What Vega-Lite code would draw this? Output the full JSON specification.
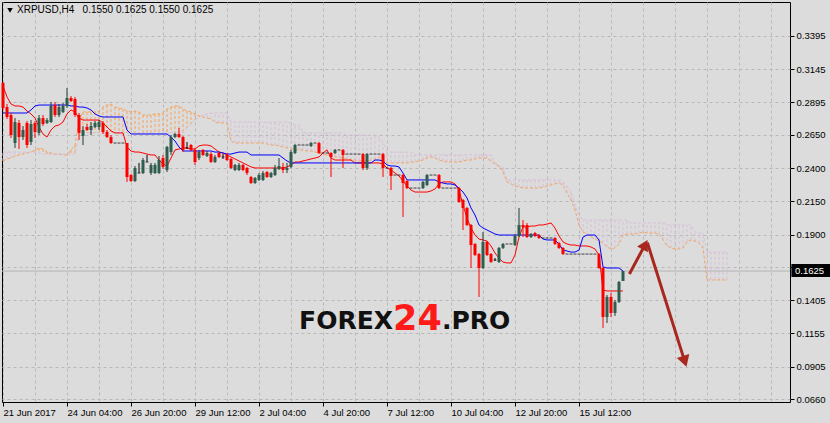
{
"$schema":"https://vega.github.io/schema/vega-lite/v6.json",
"width":788,"height":400,
"autosize":{"type":"none"},
"padding":{"left":2,"top":2,"right":40,"bottom":21},
"background":"#dcdcdc",
"config":{"view":{"stroke":"#000000","strokeWidth":1},"font":"Liberation Sans",
 "axis":{"grid":true,"gridColor":"#b8b8b8","gridDash":[3,3],"domain":false,"tickColor":"#000000","tickSize":4,
   "labelFont":"Liberation Sans","labelFontSize":9.5,"labelColor":"#000000","labelOverlap":false,"labelBound":false,"labelFlush":false,"title":null}},
"datasets":{"bars":[
{"i":0,"o":0.3041,"h":0.3048,"l":0.2838,"c":0.2853,"tk":0.3018,"kj":0.2815,"a":0.2454,"b":0.2521},
{"i":1,"o":0.286,"h":0.2883,"l":0.277,"c":0.2785,"tk":0.2936,"kj":0.2815,"a":0.2469,"b":0.2521},
{"i":2,"o":0.28,"h":0.2815,"l":0.2627,"c":0.2649,"tk":0.2883,"kj":0.2815,"a":0.2476,"b":0.2521},
{"i":3,"o":0.2589,"h":0.2777,"l":0.2552,"c":0.2747,"tk":0.2868,"kj":0.2815,"a":0.2491,"b":0.2521},
{"i":4,"o":0.274,"h":0.2762,"l":0.2544,"c":0.2634,"tk":0.2868,"kj":0.2815,"a":0.2499,"b":0.2521},
{"i":5,"o":0.2634,"h":0.2717,"l":0.2612,"c":0.2687,"tk":0.286,"kj":0.2815,"a":0.2506,"b":0.2521},
{"i":6,"o":0.274,"h":0.2755,"l":0.2552,"c":0.2574,"tk":0.283,"kj":0.2815,"a":0.2514,"b":0.2521},
{"i":7,"o":0.2597,"h":0.2762,"l":0.2574,"c":0.2732,"tk":0.2808,"kj":0.2838,"a":0.2521,"b":0.2521},
{"i":8,"o":0.274,"h":0.2755,"l":0.2627,"c":0.2672,"tk":0.2777,"kj":0.2868,"a":0.2537,"b":0.2521},
{"i":9,"o":0.2665,"h":0.28,"l":0.2649,"c":0.2777,"tk":0.271,"kj":0.2875,"a":0.2552,"b":0.2514},
{"i":10,"o":0.2777,"h":0.28,"l":0.2717,"c":0.2732,"tk":0.2657,"kj":0.2875,"a":0.2544,"b":0.2506},
{"i":11,"o":0.274,"h":0.2777,"l":0.2732,"c":0.2762,"tk":0.2634,"kj":0.2875,"a":0.2521,"b":0.2506},
{"i":12,"o":0.2747,"h":0.2898,"l":0.274,"c":0.2868,"tk":0.2687,"kj":0.2875,"a":0.2514,"b":0.2506},
{"i":13,"o":0.2875,"h":0.2898,"l":0.2785,"c":0.28,"tk":0.2717,"kj":0.2875,"a":0.2506,"b":0.2506},
{"i":14,"o":0.28,"h":0.2883,"l":0.2785,"c":0.286,"tk":0.2725,"kj":0.2875,"a":0.2506,"b":0.2506},
{"i":15,"o":0.2823,"h":0.289,"l":0.2815,"c":0.2868,"tk":0.2747,"kj":0.2875,"a":0.2499,"b":0.2506},
{"i":16,"o":0.2868,"h":0.3003,"l":0.2853,"c":0.2928,"tk":0.2808,"kj":0.2875,"a":0.2499,"b":0.2506},
{"i":17,"o":0.2928,"h":0.2943,"l":0.2898,"c":0.2905,"tk":0.2838,"kj":0.2868,"a":0.2537,"b":0.2506},
{"i":18,"o":0.2921,"h":0.2936,"l":0.2785,"c":0.28,"tk":0.2823,"kj":0.2868,"a":0.2574,"b":0.2506},
{"i":19,"o":0.28,"h":0.2815,"l":0.2612,"c":0.2665,"tk":0.2777,"kj":0.286,"a":0.2762,"b":0.2649},
{"i":20,"o":0.2642,"h":0.2717,"l":0.2574,"c":0.2687,"tk":0.2762,"kj":0.286,"a":0.2823,"b":0.2665},
{"i":21,"o":0.271,"h":0.2732,"l":0.268,"c":0.2687,"tk":0.2762,"kj":0.2853,"a":0.2823,"b":0.2665},
{"i":22,"o":0.2687,"h":0.2747,"l":0.2649,"c":0.2717,"tk":0.2762,"kj":0.2838,"a":0.2823,"b":0.2665},
{"i":23,"o":0.271,"h":0.2755,"l":0.2702,"c":0.274,"tk":0.2762,"kj":0.2808,"a":0.2823,"b":0.2665},
{"i":24,"o":0.271,"h":0.2762,"l":0.2687,"c":0.2747,"tk":0.2762,"kj":0.2793,"a":0.283,"b":0.2665},
{"i":25,"o":0.274,"h":0.2755,"l":0.2657,"c":0.2672,"tk":0.274,"kj":0.2785,"a":0.286,"b":0.2665},
{"i":26,"o":0.2672,"h":0.2687,"l":0.2627,"c":0.2634,"tk":0.271,"kj":0.2785,"a":0.2875,"b":0.2665},
{"i":27,"o":0.2634,"h":0.2649,"l":0.2582,"c":0.2589,"tk":0.268,"kj":0.2785,"a":0.2883,"b":0.2665},
{"i":28,"o":0.2589,"h":0.2589,"l":0.2589,"c":0.2589,"tk":0.2665,"kj":0.2785,"a":0.286,"b":0.2665},
{"i":29,"o":0.2589,"h":0.2589,"l":0.2589,"c":0.2589,"tk":0.2665,"kj":0.2785,"a":0.2853,"b":0.2665},
{"i":30,"o":0.2589,"h":0.2589,"l":0.2589,"c":0.2589,"tk":0.2665,"kj":0.2785,"a":0.2845,"b":0.2665},
{"i":31,"o":0.2589,"h":0.2589,"l":0.2296,"c":0.2333,"tk":0.2559,"kj":0.2687,"a":0.283,"b":0.2665},
{"i":32,"o":0.2348,"h":0.2356,"l":0.2296,"c":0.2303,"tk":0.2529,"kj":0.2657,"a":0.2823,"b":0.2665},
{"i":33,"o":0.2303,"h":0.2416,"l":0.2296,"c":0.2401,"tk":0.2521,"kj":0.2657,"a":0.283,"b":0.2665},
{"i":34,"o":0.2363,"h":0.2439,"l":0.2363,"c":0.2363,"tk":0.2521,"kj":0.2657,"a":0.2823,"b":0.2665},
{"i":35,"o":0.2363,"h":0.2476,"l":0.2356,"c":0.2461,"tk":0.2514,"kj":0.2657,"a":0.28,"b":0.2665},
{"i":36,"o":0.2446,"h":0.2499,"l":0.2446,"c":0.2446,"tk":0.2506,"kj":0.2657,"a":0.28,"b":0.2665},
{"i":37,"o":0.2363,"h":0.2439,"l":0.2348,"c":0.2424,"tk":0.2499,"kj":0.2657,"a":0.28,"b":0.2665},
{"i":38,"o":0.2363,"h":0.2439,"l":0.2356,"c":0.2424,"tk":0.2499,"kj":0.2657,"a":0.2808,"b":0.2665},
{"i":39,"o":0.2363,"h":0.2491,"l":0.2356,"c":0.2461,"tk":0.2461,"kj":0.2657,"a":0.2808,"b":0.2665},
{"i":40,"o":0.2476,"h":0.2499,"l":0.2393,"c":0.2409,"tk":0.2431,"kj":0.2657,"a":0.2815,"b":0.2665},
{"i":41,"o":0.2386,"h":0.2567,"l":0.2371,"c":0.2559,"tk":0.2416,"kj":0.2657,"a":0.2845,"b":0.2665},
{"i":42,"o":0.2521,"h":0.2649,"l":0.2499,"c":0.2634,"tk":0.2476,"kj":0.2634,"a":0.286,"b":0.2665},
{"i":43,"o":0.2634,"h":0.2665,"l":0.2627,"c":0.2657,"tk":0.2537,"kj":0.2604,"a":0.2868,"b":0.2665},
{"i":44,"o":0.2657,"h":0.2702,"l":0.2627,"c":0.2634,"tk":0.2544,"kj":0.2559,"a":0.2868,"b":0.2665},
{"i":45,"o":0.2634,"h":0.2642,"l":0.2521,"c":0.2537,"tk":0.2552,"kj":0.2529,"a":0.2845,"b":0.2665},
{"i":46,"o":0.2552,"h":0.2597,"l":0.2544,"c":0.2552,"tk":0.2552,"kj":0.2529,"a":0.283,"b":0.2702},
{"i":47,"o":0.2574,"h":0.2582,"l":0.2529,"c":0.2537,"tk":0.2544,"kj":0.2529,"a":0.2823,"b":0.2732},
{"i":48,"o":0.2537,"h":0.2552,"l":0.2424,"c":0.2446,"tk":0.2544,"kj":0.2529,"a":0.2808,"b":0.2762},
{"i":49,"o":0.2476,"h":0.2537,"l":0.2461,"c":0.2521,"tk":0.2567,"kj":0.2529,"a":0.2793,"b":0.2785},
{"i":50,"o":0.2537,"h":0.2544,"l":0.2491,"c":0.2499,"tk":0.2574,"kj":0.2529,"a":0.2785,"b":0.28},
{"i":51,"o":0.2491,"h":0.2529,"l":0.2484,"c":0.2514,"tk":0.2574,"kj":0.2529,"a":0.2777,"b":0.2808},
{"i":52,"o":0.2506,"h":0.2521,"l":0.2439,"c":0.2446,"tk":0.2567,"kj":0.2529,"a":0.277,"b":0.2815},
{"i":53,"o":0.2446,"h":0.2499,"l":0.2439,"c":0.2484,"tk":0.2544,"kj":0.2521,"a":0.2747,"b":0.2815},
{"i":54,"o":0.2514,"h":0.2521,"l":0.2476,"c":0.2484,"tk":0.2521,"kj":0.2521,"a":0.274,"b":0.2815},
{"i":55,"o":0.2484,"h":0.2506,"l":0.2469,"c":0.2484,"tk":0.2514,"kj":0.2514,"a":0.274,"b":0.2815},
{"i":56,"o":0.2499,"h":0.2514,"l":0.2454,"c":0.2461,"tk":0.2499,"kj":0.2506,"a":0.274,"b":0.2815},
{"i":57,"o":0.2469,"h":0.2476,"l":0.2393,"c":0.2401,"tk":0.2484,"kj":0.2506,"a":0.2604,"b":0.2747},
{"i":58,"o":0.2386,"h":0.2431,"l":0.2378,"c":0.2424,"tk":0.2469,"kj":0.2514,"a":0.2589,"b":0.2747},
{"i":59,"o":0.2386,"h":0.2439,"l":0.2378,"c":0.2424,"tk":0.2454,"kj":0.2521,"a":0.2589,"b":0.2747},
{"i":60,"o":0.2424,"h":0.2431,"l":0.2378,"c":0.2386,"tk":0.2439,"kj":0.2521,"a":0.2589,"b":0.2747},
{"i":61,"o":0.2401,"h":0.2409,"l":0.2348,"c":0.2363,"tk":0.2424,"kj":0.2521,"a":0.2589,"b":0.2747},
{"i":62,"o":0.2333,"h":0.2341,"l":0.2281,"c":0.2288,"tk":0.2409,"kj":0.2499,"a":0.2589,"b":0.2747},
{"i":63,"o":0.2288,"h":0.2333,"l":0.2281,"c":0.2326,"tk":0.2401,"kj":0.2499,"a":0.2589,"b":0.2747},
{"i":64,"o":0.2311,"h":0.2363,"l":0.2303,"c":0.2348,"tk":0.2401,"kj":0.2499,"a":0.2589,"b":0.2747},
{"i":65,"o":0.2311,"h":0.2378,"l":0.2303,"c":0.2363,"tk":0.2401,"kj":0.2499,"a":0.2589,"b":0.2747},
{"i":66,"o":0.2371,"h":0.2378,"l":0.2326,"c":0.2333,"tk":0.2401,"kj":0.2499,"a":0.2582,"b":0.2747},
{"i":67,"o":0.2333,"h":0.2371,"l":0.2326,"c":0.2363,"tk":0.2401,"kj":0.2499,"a":0.2574,"b":0.2747},
{"i":68,"o":0.2348,"h":0.2424,"l":0.2341,"c":0.2401,"tk":0.2401,"kj":0.2499,"a":0.2574,"b":0.2747},
{"i":69,"o":0.2393,"h":0.2476,"l":0.2386,"c":0.2416,"tk":0.2401,"kj":0.2499,"a":0.2567,"b":0.2747},
{"i":70,"o":0.2409,"h":0.2439,"l":0.2363,"c":0.2386,"tk":0.2401,"kj":0.2476,"a":0.2559,"b":0.2747},
{"i":71,"o":0.2386,"h":0.2439,"l":0.2363,"c":0.2401,"tk":0.2409,"kj":0.2454,"a":0.2552,"b":0.2747},
{"i":72,"o":0.2409,"h":0.2537,"l":0.2401,"c":0.2521,"tk":0.2424,"kj":0.2439,"a":0.2544,"b":0.274},
{"i":73,"o":0.2514,"h":0.2582,"l":0.2506,"c":0.2574,"tk":0.2446,"kj":0.2439,"a":0.2544,"b":0.2725},
{"i":74,"o":0.2574,"h":0.2574,"l":0.2574,"c":0.2574,"tk":0.2446,"kj":0.2439,"a":0.2537,"b":0.2725},
{"i":75,"o":0.2574,"h":0.2574,"l":0.2574,"c":0.2574,"tk":0.2454,"kj":0.2439,"a":0.2537,"b":0.2672},
{"i":76,"o":0.2574,"h":0.2574,"l":0.2574,"c":0.2574,"tk":0.2461,"kj":0.2439,"a":0.2529,"b":0.2665},
{"i":77,"o":0.2567,"h":0.2597,"l":0.2559,"c":0.2589,"tk":0.2469,"kj":0.2439,"a":0.2529,"b":0.2665},
{"i":78,"o":0.2589,"h":0.2589,"l":0.2589,"c":0.2589,"tk":0.2476,"kj":0.2439,"a":0.2521,"b":0.2665},
{"i":79,"o":0.2589,"h":0.2597,"l":0.2506,"c":0.2514,"tk":0.2484,"kj":0.2439,"a":0.2514,"b":0.2665},
{"i":80,"o":0.2514,"h":0.2514,"l":0.2514,"c":0.2514,"tk":0.2514,"kj":0.2439,"a":0.2506,"b":0.2665},
{"i":81,"o":0.2514,"h":0.2514,"l":0.2514,"c":0.2514,"tk":0.2537,"kj":0.2439,"a":0.2499,"b":0.2665},
{"i":82,"o":0.2514,"h":0.2521,"l":0.2333,"c":0.2484,"tk":0.2476,"kj":0.2439,"a":0.2491,"b":0.2665},
{"i":83,"o":0.2514,"h":0.2544,"l":0.2506,"c":0.2537,"tk":0.2461,"kj":0.2439,"a":0.2484,"b":0.2665},
{"i":84,"o":0.2537,"h":0.2537,"l":0.2537,"c":0.2537,"tk":0.2461,"kj":0.2439,"a":0.2484,"b":0.2665},
{"i":85,"o":0.2537,"h":0.2544,"l":0.2401,"c":0.2499,"tk":0.2461,"kj":0.2439,"a":0.2476,"b":0.2665},
{"i":86,"o":0.2506,"h":0.2506,"l":0.2506,"c":0.2506,"tk":0.2461,"kj":0.2439,"a":0.2469,"b":0.2649},
{"i":87,"o":0.2506,"h":0.2506,"l":0.2506,"c":0.2506,"tk":0.2461,"kj":0.2439,"a":0.2461,"b":0.2649},
{"i":88,"o":0.2506,"h":0.2506,"l":0.2506,"c":0.2506,"tk":0.2439,"kj":0.2439,"a":0.2461,"b":0.2649},
{"i":89,"o":0.2506,"h":0.2506,"l":0.2506,"c":0.2506,"tk":0.2439,"kj":0.2439,"a":0.2454,"b":0.2649},
{"i":90,"o":0.2506,"h":0.2514,"l":0.2386,"c":0.2401,"tk":0.2439,"kj":0.2439,"a":0.2454,"b":0.2649},
{"i":91,"o":0.2401,"h":0.2514,"l":0.2386,"c":0.2506,"tk":0.2439,"kj":0.2439,"a":0.2454,"b":0.2649},
{"i":92,"o":0.2506,"h":0.2506,"l":0.2506,"c":0.2506,"tk":0.2439,"kj":0.2439,"a":0.2461,"b":0.2649},
{"i":93,"o":0.2506,"h":0.2506,"l":0.2506,"c":0.2506,"tk":0.2439,"kj":0.2461,"a":0.2469,"b":0.2649},
{"i":94,"o":0.2506,"h":0.2506,"l":0.2506,"c":0.2506,"tk":0.2439,"kj":0.2461,"a":0.2484,"b":0.2634},
{"i":95,"o":0.2506,"h":0.2514,"l":0.2333,"c":0.2401,"tk":0.2431,"kj":0.2454,"a":0.2461,"b":0.2589},
{"i":96,"o":0.2401,"h":0.2401,"l":0.2401,"c":0.2401,"tk":0.2401,"kj":0.2424,"a":0.2439,"b":0.2537},
{"i":97,"o":0.2401,"h":0.2409,"l":0.2235,"c":0.2341,"tk":0.2386,"kj":0.2416,"a":0.2439,"b":0.2521},
{"i":98,"o":0.2348,"h":0.2348,"l":0.2348,"c":0.2348,"tk":0.2363,"kj":0.2416,"a":0.2439,"b":0.2521},
{"i":99,"o":0.2348,"h":0.2348,"l":0.2348,"c":0.2348,"tk":0.2341,"kj":0.2409,"a":0.2439,"b":0.2521},
{"i":100,"o":0.2348,"h":0.2356,"l":0.2032,"c":0.2288,"tk":0.2303,"kj":0.2363,"a":0.2439,"b":0.2521},
{"i":101,"o":0.2303,"h":0.2311,"l":0.2243,"c":0.225,"tk":0.2265,"kj":0.2311,"a":0.2439,"b":0.2521},
{"i":102,"o":0.225,"h":0.225,"l":0.225,"c":0.225,"tk":0.2235,"kj":0.2311,"a":0.2446,"b":0.2521},
{"i":103,"o":0.225,"h":0.225,"l":0.225,"c":0.225,"tk":0.222,"kj":0.2311,"a":0.2446,"b":0.2499},
{"i":104,"o":0.225,"h":0.225,"l":0.225,"c":0.225,"tk":0.222,"kj":0.2311,"a":0.2454,"b":0.2499},
{"i":105,"o":0.225,"h":0.2303,"l":0.2243,"c":0.2296,"tk":0.222,"kj":0.2311,"a":0.2461,"b":0.2499},
{"i":106,"o":0.2273,"h":0.2356,"l":0.2265,"c":0.2348,"tk":0.222,"kj":0.2311,"a":0.2476,"b":0.2499},
{"i":107,"o":0.2348,"h":0.2348,"l":0.2348,"c":0.2348,"tk":0.2228,"kj":0.2311,"a":0.2484,"b":0.2499},
{"i":108,"o":0.2348,"h":0.2348,"l":0.2348,"c":0.2348,"tk":0.2243,"kj":0.2311,"a":0.2476,"b":0.2499},
{"i":109,"o":0.2348,"h":0.2356,"l":0.2243,"c":0.225,"tk":0.2281,"kj":0.2296,"a":0.2461,"b":0.2499},
{"i":110,"o":0.225,"h":0.225,"l":0.225,"c":0.225,"tk":0.2296,"kj":0.2288,"a":0.2454,"b":0.2499},
{"i":111,"o":0.225,"h":0.225,"l":0.225,"c":0.225,"tk":0.2296,"kj":0.2281,"a":0.2446,"b":0.2499},
{"i":112,"o":0.225,"h":0.225,"l":0.225,"c":0.225,"tk":0.2296,"kj":0.2281,"a":0.2446,"b":0.2499},
{"i":113,"o":0.225,"h":0.225,"l":0.225,"c":0.225,"tk":0.2281,"kj":0.2273,"a":0.2446,"b":0.2499},
{"i":114,"o":0.225,"h":0.2258,"l":0.2138,"c":0.2145,"tk":0.2235,"kj":0.225,"a":0.2446,"b":0.2499},
{"i":115,"o":0.216,"h":0.2168,"l":0.1934,"c":0.21,"tk":0.2122,"kj":0.222,"a":0.2454,"b":0.2499},
{"i":116,"o":0.21,"h":0.2107,"l":0.1964,"c":0.1972,"tk":0.2024,"kj":0.2175,"a":0.2461,"b":0.2499},
{"i":117,"o":0.1972,"h":0.1979,"l":0.1648,"c":0.1821,"tk":0.1949,"kj":0.21,"a":0.2461,"b":0.2499},
{"i":118,"o":0.1829,"h":0.1836,"l":0.1738,"c":0.1746,"tk":0.1896,"kj":0.2047,"a":0.2469,"b":0.2499},
{"i":119,"o":0.1753,"h":0.1761,"l":0.143,"c":0.1648,"tk":0.1866,"kj":0.1972,"a":0.2476,"b":0.2499},
{"i":120,"o":0.1648,"h":0.1919,"l":0.1641,"c":0.1844,"tk":0.1859,"kj":0.1949,"a":0.2476,"b":0.2499},
{"i":121,"o":0.1844,"h":0.1851,"l":0.1738,"c":0.1746,"tk":0.1851,"kj":0.1934,"a":0.2476,"b":0.2499},
{"i":122,"o":0.1753,"h":0.1761,"l":0.1686,"c":0.1693,"tk":0.1814,"kj":0.1919,"a":0.2454,"b":0.2499},
{"i":123,"o":0.1708,"h":0.1723,"l":0.1701,"c":0.1708,"tk":0.1761,"kj":0.1904,"a":0.2431,"b":0.2446},
{"i":124,"o":0.1693,"h":0.1806,"l":0.1686,"c":0.1799,"tk":0.1723,"kj":0.1896,"a":0.2416,"b":0.2409},
{"i":125,"o":0.1799,"h":0.1836,"l":0.1791,"c":0.1829,"tk":0.1693,"kj":0.1896,"a":0.2371,"b":0.2409},
{"i":126,"o":0.1829,"h":0.1829,"l":0.1829,"c":0.1829,"tk":0.1686,"kj":0.1896,"a":0.2296,"b":0.2311},
{"i":127,"o":0.1829,"h":0.1829,"l":0.1829,"c":0.1829,"tk":0.1686,"kj":0.1896,"a":0.2281,"b":0.2311},
{"i":128,"o":0.1821,"h":0.1904,"l":0.1814,"c":0.1889,"tk":0.1746,"kj":0.1896,"a":0.2265,"b":0.2311},
{"i":129,"o":0.1889,"h":0.21,"l":0.1881,"c":0.1972,"tk":0.1881,"kj":0.1896,"a":0.2258,"b":0.2311},
{"i":130,"o":0.1972,"h":0.2009,"l":0.1881,"c":0.1957,"tk":0.1957,"kj":0.1896,"a":0.225,"b":0.2311},
{"i":131,"o":0.1972,"h":0.1987,"l":0.1874,"c":0.1881,"tk":0.1957,"kj":0.1896,"a":0.225,"b":0.2311},
{"i":132,"o":0.1881,"h":0.1911,"l":0.1874,"c":0.1904,"tk":0.1964,"kj":0.1896,"a":0.225,"b":0.2311},
{"i":133,"o":0.1911,"h":0.1919,"l":0.1881,"c":0.1889,"tk":0.1964,"kj":0.1896,"a":0.225,"b":0.2311},
{"i":134,"o":0.1896,"h":0.1904,"l":0.1866,"c":0.1874,"tk":0.1972,"kj":0.1896,"a":0.225,"b":0.2311},
{"i":135,"o":0.1874,"h":0.1874,"l":0.1874,"c":0.1874,"tk":0.1972,"kj":0.1866,"a":0.2258,"b":0.2311},
{"i":136,"o":0.1874,"h":0.1874,"l":0.1874,"c":0.1874,"tk":0.1979,"kj":0.1859,"a":0.2265,"b":0.2311},
{"i":137,"o":0.1874,"h":0.1874,"l":0.1874,"c":0.1874,"tk":0.1987,"kj":0.1859,"a":0.2273,"b":0.2311},
{"i":138,"o":0.1874,"h":0.1881,"l":0.1821,"c":0.1829,"tk":0.1949,"kj":0.1859,"a":0.2281,"b":0.2311},
{"i":139,"o":0.1836,"h":0.1844,"l":0.1791,"c":0.1799,"tk":0.1889,"kj":0.1829,"a":0.2288,"b":0.2311},
{"i":140,"o":0.1799,"h":0.1806,"l":0.1746,"c":0.1753,"tk":0.1844,"kj":0.1783,"a":0.2273,"b":0.2296},
{"i":141,"o":0.1753,"h":0.1753,"l":0.1753,"c":0.1753,"tk":0.1829,"kj":0.1776,"a":0.2213,"b":0.2265},
{"i":142,"o":0.1753,"h":0.1753,"l":0.1753,"c":0.1753,"tk":0.1821,"kj":0.1768,"a":0.216,"b":0.222},
{"i":143,"o":0.1753,"h":0.1753,"l":0.1753,"c":0.1753,"tk":0.1821,"kj":0.1768,"a":0.2085,"b":0.2122},
{"i":144,"o":0.1753,"h":0.1753,"l":0.1753,"c":0.1753,"tk":0.1814,"kj":0.1783,"a":0.1972,"b":0.2047},
{"i":145,"o":0.1753,"h":0.1753,"l":0.1753,"c":0.1753,"tk":0.1814,"kj":0.1881,"a":0.1919,"b":0.2009},
{"i":146,"o":0.1753,"h":0.1753,"l":0.1753,"c":0.1753,"tk":0.1814,"kj":0.1896,"a":0.1904,"b":0.2009},
{"i":147,"o":0.1753,"h":0.1753,"l":0.1753,"c":0.1753,"tk":0.1806,"kj":0.1896,"a":0.1881,"b":0.2009},
{"i":148,"o":0.1753,"h":0.1753,"l":0.1753,"c":0.1753,"tk":0.1791,"kj":0.1896,"a":0.1866,"b":0.2009},
{"i":149,"o":0.1753,"h":0.1761,"l":0.1641,"c":0.1648,"tk":0.1746,"kj":0.1859,"a":0.1851,"b":0.2009},
{"i":150,"o":0.1648,"h":0.1656,"l":0.1196,"c":0.1279,"tk":0.1482,"kj":0.1656,"a":0.1836,"b":0.2009},
{"i":151,"o":0.1279,"h":0.1445,"l":0.1234,"c":0.143,"tk":0.1475,"kj":0.1648,"a":0.1806,"b":0.2009},
{"i":152,"o":0.143,"h":0.146,"l":0.1279,"c":0.1309,"tk":0.1475,"kj":0.1648,"a":0.1791,"b":0.2009},
{"i":153,"o":0.1309,"h":0.1407,"l":0.1287,"c":0.1392,"tk":0.1475,"kj":0.1648,"a":0.1799,"b":0.2009},
{"i":154,"o":0.1392,"h":0.155,"l":0.1385,"c":0.1543,"tk":0.1475,"kj":0.1648,"a":0.1829,"b":0.2009},
{"i":155,"o":0.155,"h":0.1625,"l":0.155,"c":0.1625,"tk":0.1475,"kj":0.1625,"a":0.1896,"b":0.2009},
{"i":156,"a":0.1904,"b":0.2009},
{"i":157,"a":0.1904,"b":0.1987},
{"i":158,"a":0.1904,"b":0.1987},
{"i":159,"a":0.1911,"b":0.1987},
{"i":160,"a":0.1919,"b":0.1987},
{"i":161,"a":0.1911,"b":0.1987},
{"i":162,"a":0.1911,"b":0.1987},
{"i":163,"a":0.1911,"b":0.1987},
{"i":164,"a":0.1904,"b":0.1987},
{"i":165,"a":0.1859,"b":0.1987},
{"i":166,"a":0.1814,"b":0.1972},
{"i":167,"a":0.1799,"b":0.1972},
{"i":168,"a":0.1791,"b":0.1972},
{"i":169,"a":0.1791,"b":0.1972},
{"i":170,"a":0.1799,"b":0.1972},
{"i":171,"a":0.1844,"b":0.1972},
{"i":172,"a":0.1859,"b":0.1972},
{"i":173,"a":0.1851,"b":0.1919},
{"i":174,"a":0.1836,"b":0.1911},
{"i":175,"a":0.1799,"b":0.1911},
{"i":176,"a":0.1558,"b":0.1768},
{"i":177,"a":0.1558,"b":0.1768},
{"i":178,"a":0.1558,"b":0.1768},
{"i":179,"a":0.1558,"b":0.1768},
{"i":180,"a":0.1558,"b":0.1768},
{"i":181,"a":0.1558,"b":0.1768}
]},
"data":{"name":"bars"},
"layer":[
{"mark":{"type":"rule","strokeDash":[3,2],"strokeWidth":1},
 "encoding":{
  "x":{"field":"i","type":"quantitative","title":null,"scale":{"domain":[-0.25,196.75],"nice":false,"zero":false,"padding":0},
   "axis":{"values":[0,8,16,24,32,40,48,56,64,72,80,88,96,104,112,120,128,136,144,152,160,168,176,184,192],"tickCount":200,
    "tickOpacity":{"condition":{"test":"datum.value % 16 === 0 && datum.value <= 144","value":1},"value":0},
    "labelExpr":"datum.value % 16 === 0 && datum.value <= 144 ? ['21 Jun 2017','24 Jun 04:00','26 Jun 20:00','29 Jun 12:00','2 Jul 04:00','4 Jul 20:00','7 Jul 12:00','10 Jul 04:00','12 Jul 20:00','15 Jul 12:00'][datum.value / 16] : ''",
    "labelAlign":"left","labelDx":1,"labelPadding":1.5,"labelOverlap":false,"labelBound":false,"labelFlush":false}},
  "y":{"field":"a","type":"quantitative","title":null,"scale":{"domain":[0.063894,0.365094],"nice":false,"zero":false,"padding":0},
   "axis":{"orient":"right","values":[0.066,0.0905,0.1155,0.1405,0.1655,0.19,0.215,0.24,0.265,0.2895,0.3145,0.3395],"tickCount":100,
    "format":".4f","labelPadding":2,"labelOverlap":false,"labelBound":false,"labelFlush":false}},
  "y2":{"field":"b"},
  "color":{"condition":{"test":"datum.a >= datum.b","value":"#f4a460"},"value":"#d8bfd8"}}},
{"mark":{"type":"line","color":"#f4a460","strokeDash":[3,2],"strokeWidth":1},
 "encoding":{"x":{"field":"i","type":"quantitative","title":null},"y":{"field":"a","type":"quantitative","title":null}}},
{"mark":{"type":"line","color":"#d8bfd8","strokeDash":[3,2],"strokeWidth":1},
 "encoding":{"x":{"field":"i","type":"quantitative","title":null},"y":{"field":"b","type":"quantitative","title":null}}},
{"data":{"values":[{"p":0.1625}]},"mark":{"type":"rule","color":"#b4b4b4","strokeWidth":1},
 "encoding":{"y":{"field":"p","type":"quantitative","title":null}}},
{"transform":[{"filter":"isValid(datum.tk)"}],"mark":{"type":"line","color":"#ff0000","strokeWidth":1},
 "encoding":{"x":{"field":"i","type":"quantitative","title":null},"y":{"field":"tk","type":"quantitative","title":null}}},
{"transform":[{"filter":"isValid(datum.kj)"}],"mark":{"type":"line","color":"#0000ff","strokeWidth":1},
 "encoding":{"x":{"field":"i","type":"quantitative","title":null},"y":{"field":"kj","type":"quantitative","title":null}}},
{"transform":[{"filter":"isValid(datum.o)"}],"mark":{"type":"rule","strokeWidth":1},
 "encoding":{"x":{"field":"i","type":"quantitative","title":null},"y":{"field":"l","type":"quantitative","title":null},"y2":{"field":"h"},
  "color":{"condition":[{"test":"datum.o == datum.c","value":"#000000"},{"test":"datum.c > datum.o","value":"#1f3d33"}],"value":"#ff0000"}}},
{"transform":[{"filter":"isValid(datum.o) && datum.o != datum.c"}],"mark":{"type":"bar","width":3},
 "encoding":{"x":{"field":"i","type":"quantitative","title":null},"y":{"field":"o","type":"quantitative","title":null},"y2":{"field":"c"},
  "color":{"condition":{"test":"datum.c > datum.o","value":"#2f5e4e"},"value":"#ff0000"}}},
{"transform":[{"filter":"isValid(datum.o) && datum.o == datum.c"}],"mark":{"type":"tick","orient":"horizontal","size":3,"thickness":1,"color":"#000000"},
 "encoding":{"x":{"field":"i","type":"quantitative","title":null},"y":{"field":"c","type":"quantitative","title":null}}},
{"data":{"values":[{"t":"FOREX"}]},"mark":{"type":"text","align":"right","baseline":"alphabetic","font":"DejaVu Sans","fontWeight":"bold","fontSize":25,"color":"#111111"},
 "encoding":{"x":{"datum":97.5,"type":"quantitative","title":null},"y":{"datum":0.1189,"type":"quantitative","title":null},"text":{"field":"t"}}},
{"data":{"values":[{"t":"24"}]},"mark":{"type":"text","align":"center","baseline":"alphabetic","font":"DejaVu Sans","fontWeight":"bold","fontSize":35,"color":"#ff1a1a"},
 "encoding":{"x":{"datum":103.6,"type":"quantitative","title":null},"y":{"datum":0.1181,"type":"quantitative","title":null},"text":{"field":"t"}}},
{"data":{"values":[{"t":".PRO"}]},"mark":{"type":"text","align":"left","baseline":"alphabetic","font":"DejaVu Sans","fontWeight":"bold","fontSize":25,"color":"#111111"},
 "encoding":{"x":{"datum":109.75,"type":"quantitative","title":null},"y":{"datum":0.1189,"type":"quantitative","title":null},"text":{"field":"t"}}},
{"data":{"values":[{"x":156.6,"y":0.1603,"x2":160.3,"y2":0.1811},{"x":161.1,"y":0.1838,"x2":170.3,"y2":0.0958}]},
 "mark":{"type":"rule","color":"#a8271e","strokeWidth":3,"strokeCap":"butt"},
 "encoding":{"x":{"field":"x","type":"quantitative","title":null},"y":{"field":"y","type":"quantitative","title":null},"x2":{"field":"x2"},"y2":{"field":"y2"}}},
{"data":{"values":[{"k":1}]},"mark":{"type":"point","shape":"triangle","angle":28,"size":150,"filled":true,"opacity":1,"color":"#a8271e"},
 "encoding":{"x":{"datum":160.3,"type":"quantitative","title":null},"y":{"datum":0.1811,"type":"quantitative","title":null}}},
{"data":{"values":[{"k":1}]},"mark":{"type":"point","shape":"triangle","angle":162,"size":170,"filled":true,"opacity":1,"color":"#a8271e"},
 "encoding":{"x":{"datum":170.3,"type":"quantitative","title":null},"y":{"datum":0.0958,"type":"quantitative","title":null}}},
{"data":{"values":[{"k":1}]},"mark":{"type":"point","shape":"triangle-down","size":30,"filled":true,"opacity":1,"color":"#000000"},
 "encoding":{"x":{"datum":1.75,"type":"quantitative","title":null},"y":{"datum":0.3587,"type":"quantitative","title":null}}},
{"data":{"values":[{"t":"XRPUSD,H4\u00a0\u00a0 0.1550 0.1625 0.1550 0.1625"}]},"mark":{"type":"text","align":"left","baseline":"middle","font":"Liberation Sans","fontSize":10,"color":"#000000"},
 "encoding":{"x":{"datum":3.5,"type":"quantitative","title":null},"y":{"datum":0.3587,"type":"quantitative","title":null},"text":{"field":"t"}}},
{"data":{"values":[{"k":1}]},"mark":{"type":"rect","color":"#000000"},
 "encoding":{"x":{"datum":197.1,"type":"quantitative","title":null},"x2":{"datum":206.75},"y":{"datum":0.1678,"type":"quantitative","title":null},"y2":{"datum":0.158}}},
{"data":{"values":[{"t":"0.1625"}]},"mark":{"type":"text","align":"left","baseline":"middle","font":"Liberation Sans","fontSize":9.5,"color":"#ffffff"},
 "encoding":{"x":{"datum":198,"type":"quantitative","title":null},"y":{"datum":0.1628,"type":"quantitative","title":null},"text":{"field":"t"}}}
]
}
